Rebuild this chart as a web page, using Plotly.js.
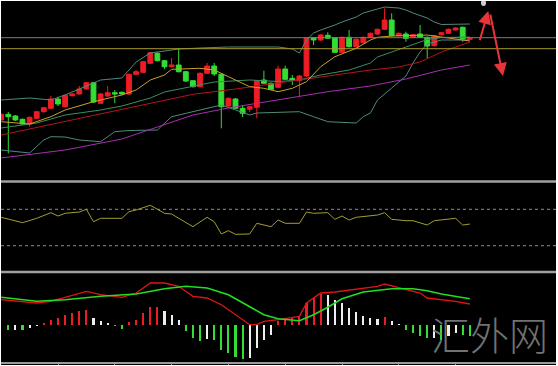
<!DOCTYPE html>
<html><head><meta charset="utf-8">
<script src="https://cdn.plot.ly/plotly-3.0.1.min.js"></script>
<style>html,body{margin:0;padding:0;background:#ffffff;overflow:hidden}#chart{position:absolute;left:1px;top:1px;width:555px;height:364px}</style>
</head><body><div id="chart"></div><script>
// ---- price candles (bar index 0..66) ----
const barIdx = Array.from({length:67},(_,i)=>i);
const candleOpen = [80,85.7,84,80.7,76,81.7,88.3,91.7,101,93.3,104.3,106,111,117.3,96.7,104,107.3,107.7,106,125.7,127.7,136.7,146.7,139.3,133.3,135,128.3,119.3,113.3,126.7,134,125.7,94,101,91.7,90.7,92.7,120,116.7,112.7,131,121.7,119.3,124,162.3,160,164.7,162.3,147.7,162.7,153.3,157.3,162.7,166,170.7,180,164.3,166,162.7,166,162.7,154.3,165.3,166.7,170,172.7,160.7];
const candleClose = [85.7,83.3,80,76,82.7,88.3,92.3,101,96,104.7,106,111,117.3,98,106,107.3,106,106,125.7,128.3,138.3,147.3,139.3,133.3,135,128.3,119,113.3,126.7,134,126,93.3,101.7,91.7,86.7,93.3,119.3,116.7,110.7,131,120.7,120,124,162.3,160,165,161.7,147.7,162.7,153.3,160.7,162.7,166.7,170.7,180,164.3,166.7,161.7,165.3,162.7,154,164.3,167.3,170.7,172,161,161.7];
const candleHigh = [86.5,88,85,81.5,83.5,89,93,104,103.3,105.5,106.7,114,118,118,107,114,110,108.5,126.5,130,139,148,148,140,142,151.7,129,120,127.5,137,137,127,102.5,102,95,94,120,129.3,117.5,134.3,134.3,125,125,163,163,166,167.7,163,163.5,170,161.5,163.5,167.5,171.5,191.7,186.7,167.5,168.3,166,175,163.5,165,168,171.5,173,173.5,162.3];
const candleLow = [79.5,46.7,79,75,73.3,81,87.5,91,94,92.5,103.5,105.5,110.5,97,96,103,96.7,105,105,125,127,136,138.5,131,132.5,127.5,118,112.5,112.5,126,124,71.7,93,91,83,88,81.7,116,110,112,120,115,103.3,123,155,159,161,147,147,152.5,152.5,156.5,162,165,170,163.5,163.5,158.3,162,162,141.7,153.5,164.5,166,169.5,158.3,160];

// ---- overlay lines (bar index, value) ----
const maYellowIdx = [0,4,7,9,13,14,17,19,21,23,24,28,30,32,33,35,37,39,41,43,45,47,50,52,53,55,60,62,65,66];
const maYellow    = [78.3,76,83.3,90,98.3,100,105,110,120,125,130.7,131.7,130,123.3,120,113.3,111.7,108.3,111.7,118.3,133.3,143.3,151.7,160,162.7,164,165,163.3,160,159];
const bbMidIdx = [0,5,9,14,17,21,23,27,30,35,39,42,45,49,52,53,58,60,62,66];
const bbMid    = [72,77,85,90,94,102,108,114,118,120,118.5,120,125,130,137,143,156,160.5,162.5,163];
const bbUpIdx = [0,4,7,9,13,14,17,19,21,23,25,28,32,39,41,42,43,44,45,47,48,50,51,53,54,56,57,58,60,61,62,66];
const bbUp    = [100,102,100,105,117,120,122,138,147,149,151,152,153,153,151,147,160,167,170,175,178,183,187,191,193,192,190,187,182,178,175.5,176];
const bbLowIdx = [0,4,6,7,9,11,14,16,18,22,24,26,28,30,31,33,35,36,42,44,46,50,51,52,53,55,57,58,59,60,62,66];
const bbLow    = [50,47,60,63.3,63,60,58.3,68.3,69.5,70,83.3,86.7,90,93.3,95,90,85,87,88.3,83.3,78.3,77,83.3,87,100,112,124,137,148,156,160,160];
const maRedIdx = [0,9,17,27,33,39,46,52,56,59,62,64,66];
const maRed    = [65,78.5,91,105.7,111,117,124,130,133,138,148,153,158];
const maPurpleIdx = [0,9,17,27,32,39,46,52,57,62,66];
const maPurple    = [42,50,61,85,92,100,108.3,114,121,130,135];

// ---- RSI ----
const rsiIdx = [0,3,5,7,8,9,11,12,13,14,17,18,19,21,23,24,27,29,30,31,32,33,35,36,38,39,40,42,43,44,46,47,48,49,50,53,54,55,57,58,60,61,64,65,66];
const rsiVal = [61.2,55.3,60.1,66.3,62.6,65.6,67.0,70.0,56.4,60.1,60.1,67.4,69.2,74.4,65.6,64.8,50.9,61.2,56.4,42.9,46.5,42.5,42.9,54.6,50.9,58.2,54.6,54.6,67.0,65.6,66.3,59.0,62.6,58.2,61.2,63.7,66.3,59.0,57.5,57.5,52.7,57.5,60.1,52.7,53.8];
const rsiLevels = [70,30];

// ---- MACD ----
const macdHistIdx = barIdx.slice(1);
const macdHist = [-0.55,-0.5,-0.55,-0.35,-0.1,0.15,0.5,0.67,1.0,1.17,1.33,1.5,0.67,0.4,0.17,-0.17,-0.4,0.23,0.5,1.17,1.73,1.75,1.4,1.0,0.5,-0.6,-1.33,-1.6,-1.4,-1.5,-2.5,-2.83,-3.27,-3.4,-3.35,-2.33,-1.5,-1.0,0.4,0.67,0.7,0.83,2.17,2.67,3.1,3.0,2.43,2.17,1.67,1.23,0.83,0.67,0.57,0.77,0.33,0.1,-0.5,-0.83,-1.17,-1.33,-1.3,-1.5,-1.17,-0.83,-1.0,-1.17];
const difIdx = [0,2,5,7,9,12,14,17,19,21,23,25,27,29,31,33,35,36,37,39,42,43,45,47,51,53,54,56,59,60,62,64,66];
const dif    = [2.48,2.32,2.15,2.32,2.72,3.32,2.98,2.72,3.15,4.15,4.15,3.82,2.82,2.65,1.98,0.98,-0.02,-0.02,0.32,0.48,0.82,2.15,3.15,3.25,3.65,3.82,4.05,3.72,3.15,2.65,2.48,2.32,2.05];
const deaIdx = [0,5,9,14,19,23,26,29,32,35,37,39,42,44,46,48,51,55,58,60,62,66];
const dea    = [2.72,2.32,2.48,2.82,3.05,3.58,3.82,3.65,2.98,1.82,0.98,0.58,0.38,0.98,1.72,2.58,3.25,3.58,3.58,3.38,3.05,2.58];
const tickBars = [8,16,24,32,40,48,56,64];

const RED='#ee1c24', GREEN='#33dd33', WHITE='#eeeeee';
const histColors = macdHist.map((v,i)=>{
  const p = i>0 ? macdHist[i-1] : v;
  if (v>0 && v>=p) return RED;
  if (v<0 && v<=p) return GREEN;
  return WHITE;
});

const H=364, W=555;
const py = p => 1-(p-1)/H;   // page pixel row -> paper fraction
const px = p => (p-1)/W;

const line = (x,y,color,yaxis,width)=>({type:'scatter',mode:'lines',x:x,y:y,yaxis:yaxis,line:{color:color,width:width||1},hoverinfo:'skip'});

const traces = [
  {type:'candlestick',x:barIdx,open:candleOpen,high:candleHigh,low:candleLow,close:candleClose,
   increasing:{line:{color:RED,width:1},fillcolor:RED},decreasing:{line:{color:GREEN,width:1},fillcolor:GREEN},
   whiskerwidth:0,hoverinfo:'skip',yaxis:'y'},
  line(bbUpIdx,bbUp,'#4f8a7c','y'),
  line(bbLowIdx,bbLow,'#4f8a7c','y'),
  line(bbMidIdx,bbMid,'#3a8f62','y'),
  line(maRedIdx,maRed,'#b3161b','y'),
  line(maPurpleIdx,maPurple,'#a52fb0','y'),
  line(maYellowIdx,maYellow,'#c9a227','y'),
  line(rsiIdx,rsiVal,'#a39d33','y2'),
  {type:'bar',x:macdHistIdx,y:macdHist,yaxis:'y3',width:0.3,marker:{color:histColors,line:{width:0}},hoverinfo:'skip'},
  line(difIdx,dif,'#e01414','y3',1.3),
  line(deaIdx,dea,'#22dd22','y3',1.6)
];

const shapes = [
  {type:'line',xref:'paper',x0:0,x1:1,yref:'y',y0:162.3,y1:162.3,line:{color:'#7c7c7c',width:1}},
  {type:'line',xref:'paper',x0:0,x1:1,yref:'y',y0:151.3,y1:151.3,line:{color:'#a59b2c',width:1}},
  {type:'line',xref:'paper',x0:0,x1:1,yref:'paper',y0:py(181.5),y1:py(181.5),line:{color:'#a0a0a0',width:2.5}},
  {type:'line',xref:'paper',x0:0,x1:1,yref:'paper',y0:py(272),y1:py(272),line:{color:'#a0a0a0',width:2.5}},
  {type:'circle',xref:'paper',yref:'paper',x0:px(481),x1:px(486),y0:py(6),y1:py(0),fillcolor:'#cfcfcf',line:{width:0}}
];
rsiLevels.forEach(l=>shapes.push({type:'line',xref:'paper',x0:0,x1:1,yref:'y2',y0:l,y1:l,line:{color:'#8c8c8c',width:1,dash:'dot'}}));

const annotations = [
  {x:68.6,y:189,ax:67.34,ay:158.3,xref:'x',yref:'y',axref:'x',ayref:'y',showarrow:true,arrowhead:2,arrowsize:1.3,arrowwidth:2,arrowcolor:'#e8353a',text:''},
  {x:70.67,y:124,ax:68.84,ay:187,xref:'x',yref:'y',axref:'x',ayref:'y',showarrow:true,arrowhead:2,arrowsize:1.3,arrowwidth:2,arrowcolor:'#e8353a',text:''},
  {text:'汇外网',xref:'paper',yref:'paper',x:px(489),y:py(333),xanchor:'center',yanchor:'middle',showarrow:false,
   font:{family:'"Noto Sans CJK SC", sans-serif',size:39,color:'#727272',weight:300}}
];

const axHidden = {showgrid:false,zeroline:false,showticklabels:false,ticks:'',showline:false,fixedrange:true};
const layout = {
  width:W,height:H,margin:{l:0,r:0,t:0,b:0},paper_bgcolor:'#000',plot_bgcolor:'#000',showlegend:false,
  bargap:0, boxgap:0.32, boxgroupgap:0,
  xaxis:{range:[-0.028,78.14],anchor:'y3',showgrid:false,zeroline:false,showline:true,linecolor:'#9a9a9a',linewidth:2,
         ticks:'outside',ticklen:3,tickcolor:'#9a9a9a',tickvals:tickBars,showticklabels:false,rangeslider:{visible:false},fixedrange:true},
  yaxis:Object.assign({domain:[py(181),py(1)],range:[19,199]},axHidden),
  yaxis2:Object.assign({domain:[py(270),py(184)],range:[3.3,97.8]},axHidden),
  yaxis3:Object.assign({domain:[py(362),py(274)],range:[-3.75,5.05]},axHidden),
  shapes:shapes,annotations:annotations
};
Plotly.newPlot('chart',traces,layout,{staticPlot:true,displayModeBar:false});
</script></body></html>
